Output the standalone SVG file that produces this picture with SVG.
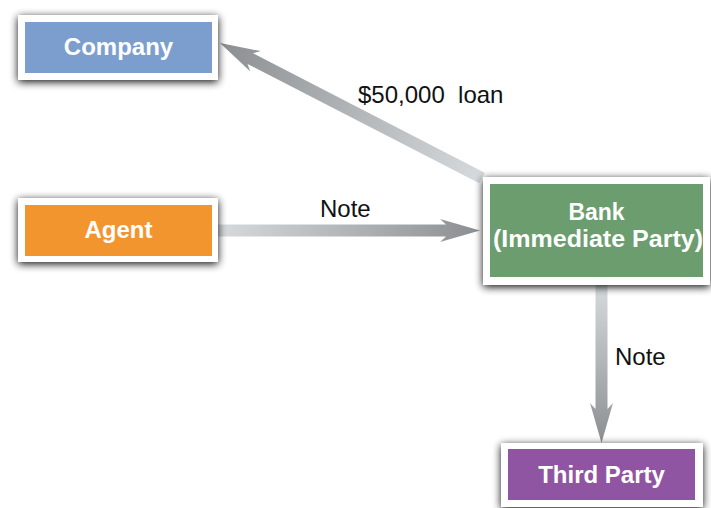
<svg xmlns="http://www.w3.org/2000/svg" width="711" height="508" viewBox="0 0 711 508">
<defs>
<style>
.lbl{font-family:"Liberation Sans",Arial,sans-serif;font-size:24px;fill:#111;white-space:pre}
.nt{font-family:"Liberation Sans",Arial,sans-serif;font-size:24px;font-weight:bold;fill:#fff;text-anchor:middle}
.nt2{font-size:23px}
.frame{fill:#fff;filter:url(#sh)}
</style>
<filter id="sh" x="-20%" y="-40%" width="140%" height="180%">
<feGaussianBlur in="SourceAlpha" stdDeviation="4.5"/>
<feOffset dx="0" dy="2" result="b"/>
<feComponentTransfer><feFuncA type="linear" slope="0.95"/></feComponentTransfer>
<feMerge><feMergeNode/><feMergeNode in="SourceGraphic"/></feMerge>
</filter>
<linearGradient id="ag" x1="0" y1="0" x2="1" y2="0">
<stop offset="0" stop-color="#d6dadd"/>
<stop offset="1" stop-color="#8b8f92"/>
</linearGradient>
</defs>
<g id="connectors">
<polygon fill="url(#ag)" transform="translate(482,178) rotate(207.26)" points="0,-6 260.7,-6 254.7,-11.5 294.7,0 254.7,11.5 260.7,6 0,6"/>
<polygon fill="url(#ag)" transform="translate(218,230.5)" points="0,-6 228,-6 222,-11.5 262,0 222,11.5 228,6 0,6"/>
<polygon fill="url(#ag)" transform="translate(601.5,285) rotate(90)" points="0,-6 124,-6 118,-11.5 158,0 118,11.5 124,6 0,6"/>
<text class="lbl" x="358" y="103">$50,000  loan</text>
<text class="lbl" x="320" y="217">Note</text>
<text class="lbl" x="615" y="365">Note</text>
</g>
<g id="company">
<rect class="frame" x="18" y="15" width="200" height="65"/>
<rect x="25" y="22" width="187" height="51" fill="#7b9ecf"/>
<text class="nt" x="118.5" y="55">Company</text>
</g>
<g id="agent">
<rect class="frame" x="18" y="198" width="200" height="64"/>
<rect x="25" y="205" width="187" height="51" fill="#f3952f"/>
<text class="nt" x="118.5" y="238">Agent</text>
</g>
<g id="bank">
<rect class="frame" x="483" y="177" width="227" height="108"/>
<rect x="490" y="184" width="213" height="93" fill="#6b9d6e"/>
<text class="nt nt2" x="596.5" y="220">Bank</text>
<text class="nt nt2" x="598" y="247" textLength="210" lengthAdjust="spacingAndGlyphs">(Immediate Party)</text>
</g>
<g id="third-party">
<rect class="frame" x="501" y="443" width="202" height="64"/>
<rect x="508" y="449" width="187" height="51" fill="#8f55a2"/>
<text class="nt" x="601.5" y="483">Third Party</text>
</g>
</svg>
